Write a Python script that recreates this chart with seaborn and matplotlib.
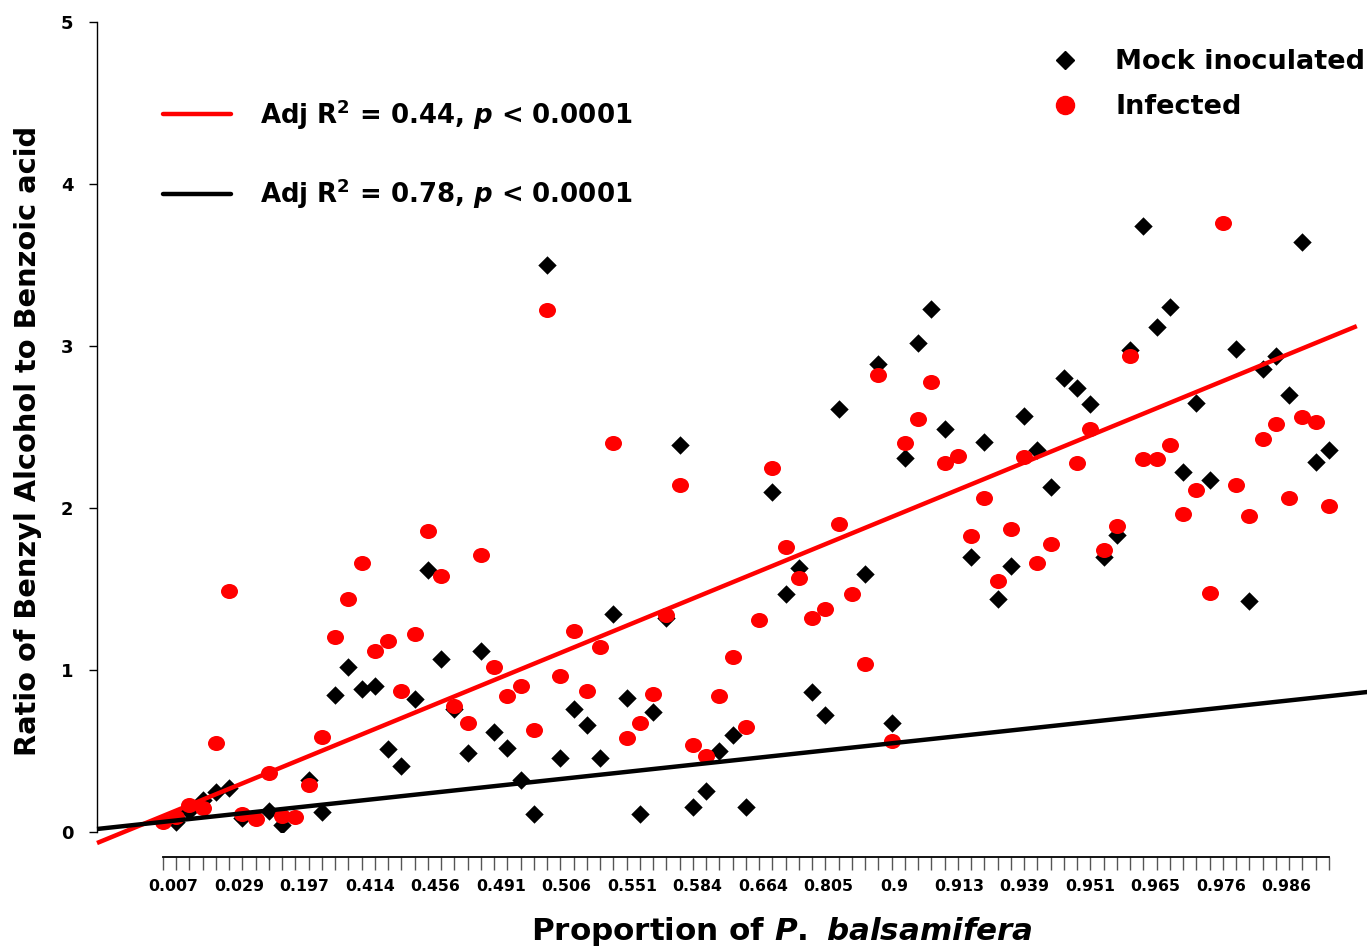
import numpy as np
import pandas as pd
import matplotlib
matplotlib.use("Agg")
import matplotlib.pyplot as plt
from matplotlib.lines import Line2D
from matplotlib.path import Path
import seaborn as sns

# ---------------- data ----------------
tick_labels = ["0.007", "0.029", "0.197", "0.414", "0.456", "0.491", "0.506", "0.551",
               "0.584", "0.664", "0.805", "0.9", "0.913", "0.939", "0.951", "0.965",
               "0.976", "0.986"]

nan = np.nan
mock = [nan, 0.064, 0.13, 0.20, 0.25, 0.27, 0.085, nan, 0.13, 0.043,
        nan, 0.32, 0.125, 0.845, 1.017, 0.88, 0.90, 0.51, 0.41, 0.82,
        1.62, 1.066, 0.76, 0.486, 1.12, 0.62, 0.517, 0.32, 0.11, 3.50,
        0.455, 0.76, 0.66, 0.455, 1.345, 0.825, 0.11, 0.74, 1.32, 2.39,
        0.156, 0.255, 0.50, 0.60, 0.152, nan, 2.10, 1.47, 1.63, 0.866,
        0.72, 2.61, nan, 1.59, 2.89, 0.67, 2.31, 3.02, 3.23, 2.485,
        nan, 1.695, 2.41, 1.44, 1.64, 2.57, 2.36, 2.13, 2.80, 2.74,
        2.644, 1.70, 1.833, 2.975, 3.74, 3.116, 3.24, 2.22, 2.65, 2.17,
        nan, 2.98, 1.425, 2.86, 2.937, 2.70, 3.64, 2.287, 2.355]

infected = [0.064, 0.095, 0.167, 0.146, 0.547, 1.49, 0.11, 0.078, 0.366, 0.099,
            0.095, 0.29, 0.585, 1.205, 1.436, 1.66, 1.12, 1.18, 0.87, 1.22,
            1.86, 1.58, 0.78, 0.67, 1.71, 1.02, 0.84, 0.90, 0.63, 3.22,
            0.963, 1.243, 0.87, 1.144, 2.40, 0.578, 0.675, 0.852, 1.34, 2.14,
            0.537, 0.47, 0.84, 1.078, 0.646, 1.31, 2.245, 1.757, 1.566, 1.32,
            1.375, 1.90, 1.47, 1.04, 2.82, 0.564, 2.40, 2.55, 2.78, 2.28,
            2.32, 1.83, 2.06, 1.55, 1.87, 2.317, 1.66, 1.78, nan, 2.28,
            2.49, 1.74, 1.89, 2.937, 2.30, 2.30, 2.39, 1.96, 2.11, 1.475,
            3.76, 2.14, 1.95, 2.425, 2.52, 2.06, 2.56, 2.53, 2.01]

# trend lines: (intercept, slope) in category-index units, and drawn span
fit_infected = (0.099, 0.03356)
fit_mock = (0.0625, 0.00882)
span_infected = (-4.98, 90.1)
span_mock = (-4.98, 90.9)
label_infected = "Adj R$^2$ = 0.44, $p$ < 0.0001"
label_mock = "Adj R$^2$ = 0.78, $p$ < 0.0001"
group_names = ["Mock inoculated", "Infected"]

# ---------------- style ----------------
sns.set_theme(style="ticks")
plt.rcParams["font.family"] = ["DejaVu Sans"]
plt.rcParams["font.weight"] = "bold"
plt.rcParams["text.color"] = "black"
plt.rcParams["axes.labelcolor"] = "black"
plt.rcParams["xtick.color"] = "black"
plt.rcParams["ytick.color"] = "black"
plt.rcParams["axes.edgecolor"] = "black"
plt.rcParams["mathtext.fontset"] = "custom"
plt.rcParams["mathtext.rm"] = "DejaVu Sans:bold"
plt.rcParams["mathtext.it"] = "DejaVu Sans:bold:italic"
plt.rcParams["mathtext.bf"] = "DejaVu Sans:bold"

W, H = 1367, 948
fig = plt.figure(figsize=(W / 100, H / 100), dpi=100)
ax = fig.add_axes([97 / W, (H - 832) / H, (W - 97) / W, (832 - 22) / H])

n = len(mock)
idx = np.arange(n)
df = pd.DataFrame({
    "x": np.concatenate([idx, idx]),
    "y": np.concatenate([mock, infected]),
    "group": [group_names[0]] * n + [group_names[1]] * n,
})

circ = Path.unit_circle()
ellipse = Path(circ.vertices * np.array([1.13, 1.0]), circ.codes)

sns.scatterplot(data=df[df.group == group_names[0]], x="x", y="y", marker="D",
                color="black", s=88, linewidth=0, ax=ax, legend=False, zorder=3)
sns.scatterplot(data=df[df.group == group_names[1]], x="x", y="y", marker=ellipse,
                color="#ff0000", s=150, linewidth=0, ax=ax, legend=False, zorder=4)

for (b0, b1), (x0, x1), col in [(fit_infected, span_infected, "#ff0000"),
                                (fit_mock, span_mock, "black")]:
    xs = np.array([x0, x1])
    ln, = ax.plot(xs, b0 + b1 * xs, color=col, lw=3.2, zorder=5,
                  solid_capstyle="butt")
    ln.set_clip_on(False)

ax.set_xlim(-4.98, 90.87)
ax.set_ylim(0, 5)
ax.set_xlabel("")
ax.set_ylabel("")

# y axis
ax.set_yticks(range(0, 6))
ax.set_yticklabels([str(v) for v in range(0, 6)])
ax.tick_params(axis="y", which="major", left=True, length=6, width=1, color="black",
               direction="out", labelsize=13, pad=11)
# x axis: category ticks on a detached, bounded axis line
ax.spines["top"].set_visible(False)
ax.spines["right"].set_visible(False)
ax.spines["bottom"].set_position(("outward", 18))
ax.spines["bottom"].set_bounds(0, n - 1)
ax.spines["bottom"].set_linewidth(1.3)
ax.spines["left"].set_linewidth(1.0)
ax.set_xticks(idx, minor=True)
ax.set_xticks(np.linspace(0.8, 84.8, len(tick_labels)))
ax.set_xticklabels(tick_labels)
ax.tick_params(axis="x", which="minor", bottom=True, length=9, width=1, color="#555555",
               direction="out")
ax.tick_params(axis="x", which="major", bottom=True, length=0, pad=16, labelsize=11.3)

fig.text(28 / W, 1 - 441 / H, "Ratio of Benzyl Alcohol to Benzoic acid", rotation=90,
         ha="center", va="center", fontsize=20.8, fontweight="bold")
fig.text(782 / W, 1 - 932 / H, "Proportion of $P.$ $balsamifera$",
         ha="center", va="center", fontsize=22.3, fontweight="bold")

# legends
h_marks = [Line2D([], [], ls="none", marker="D", color="black", markersize=9.5),
           Line2D([], [], ls="none", marker="o", color="#ff0000", markersize=13)]
leg1 = ax.legend(h_marks, group_names, loc="upper left",
                 bbox_to_anchor=(1050 / W, 1 - 49 / H), bbox_transform=fig.transFigure,
                 frameon=False, fontsize=19.5, handlelength=1.1, handletextpad=1.3,
                 labelspacing=0.72, borderpad=0, borderaxespad=0)
ax.add_artist(leg1)
h_lines = [Line2D([], [], color="#ff0000", lw=3.2), Line2D([], [], color="black", lw=3.2)]
ax.legend(h_lines, [label_infected, label_mock], loc="upper left",
          bbox_to_anchor=(163 / W, 1 - 97 / H), bbox_transform=fig.transFigure,
          frameon=False, fontsize=18.7, handlelength=2.6, handletextpad=1.15,
          labelspacing=1.75, borderpad=0, borderaxespad=0)

fig.savefig("out.png", dpi=100)
